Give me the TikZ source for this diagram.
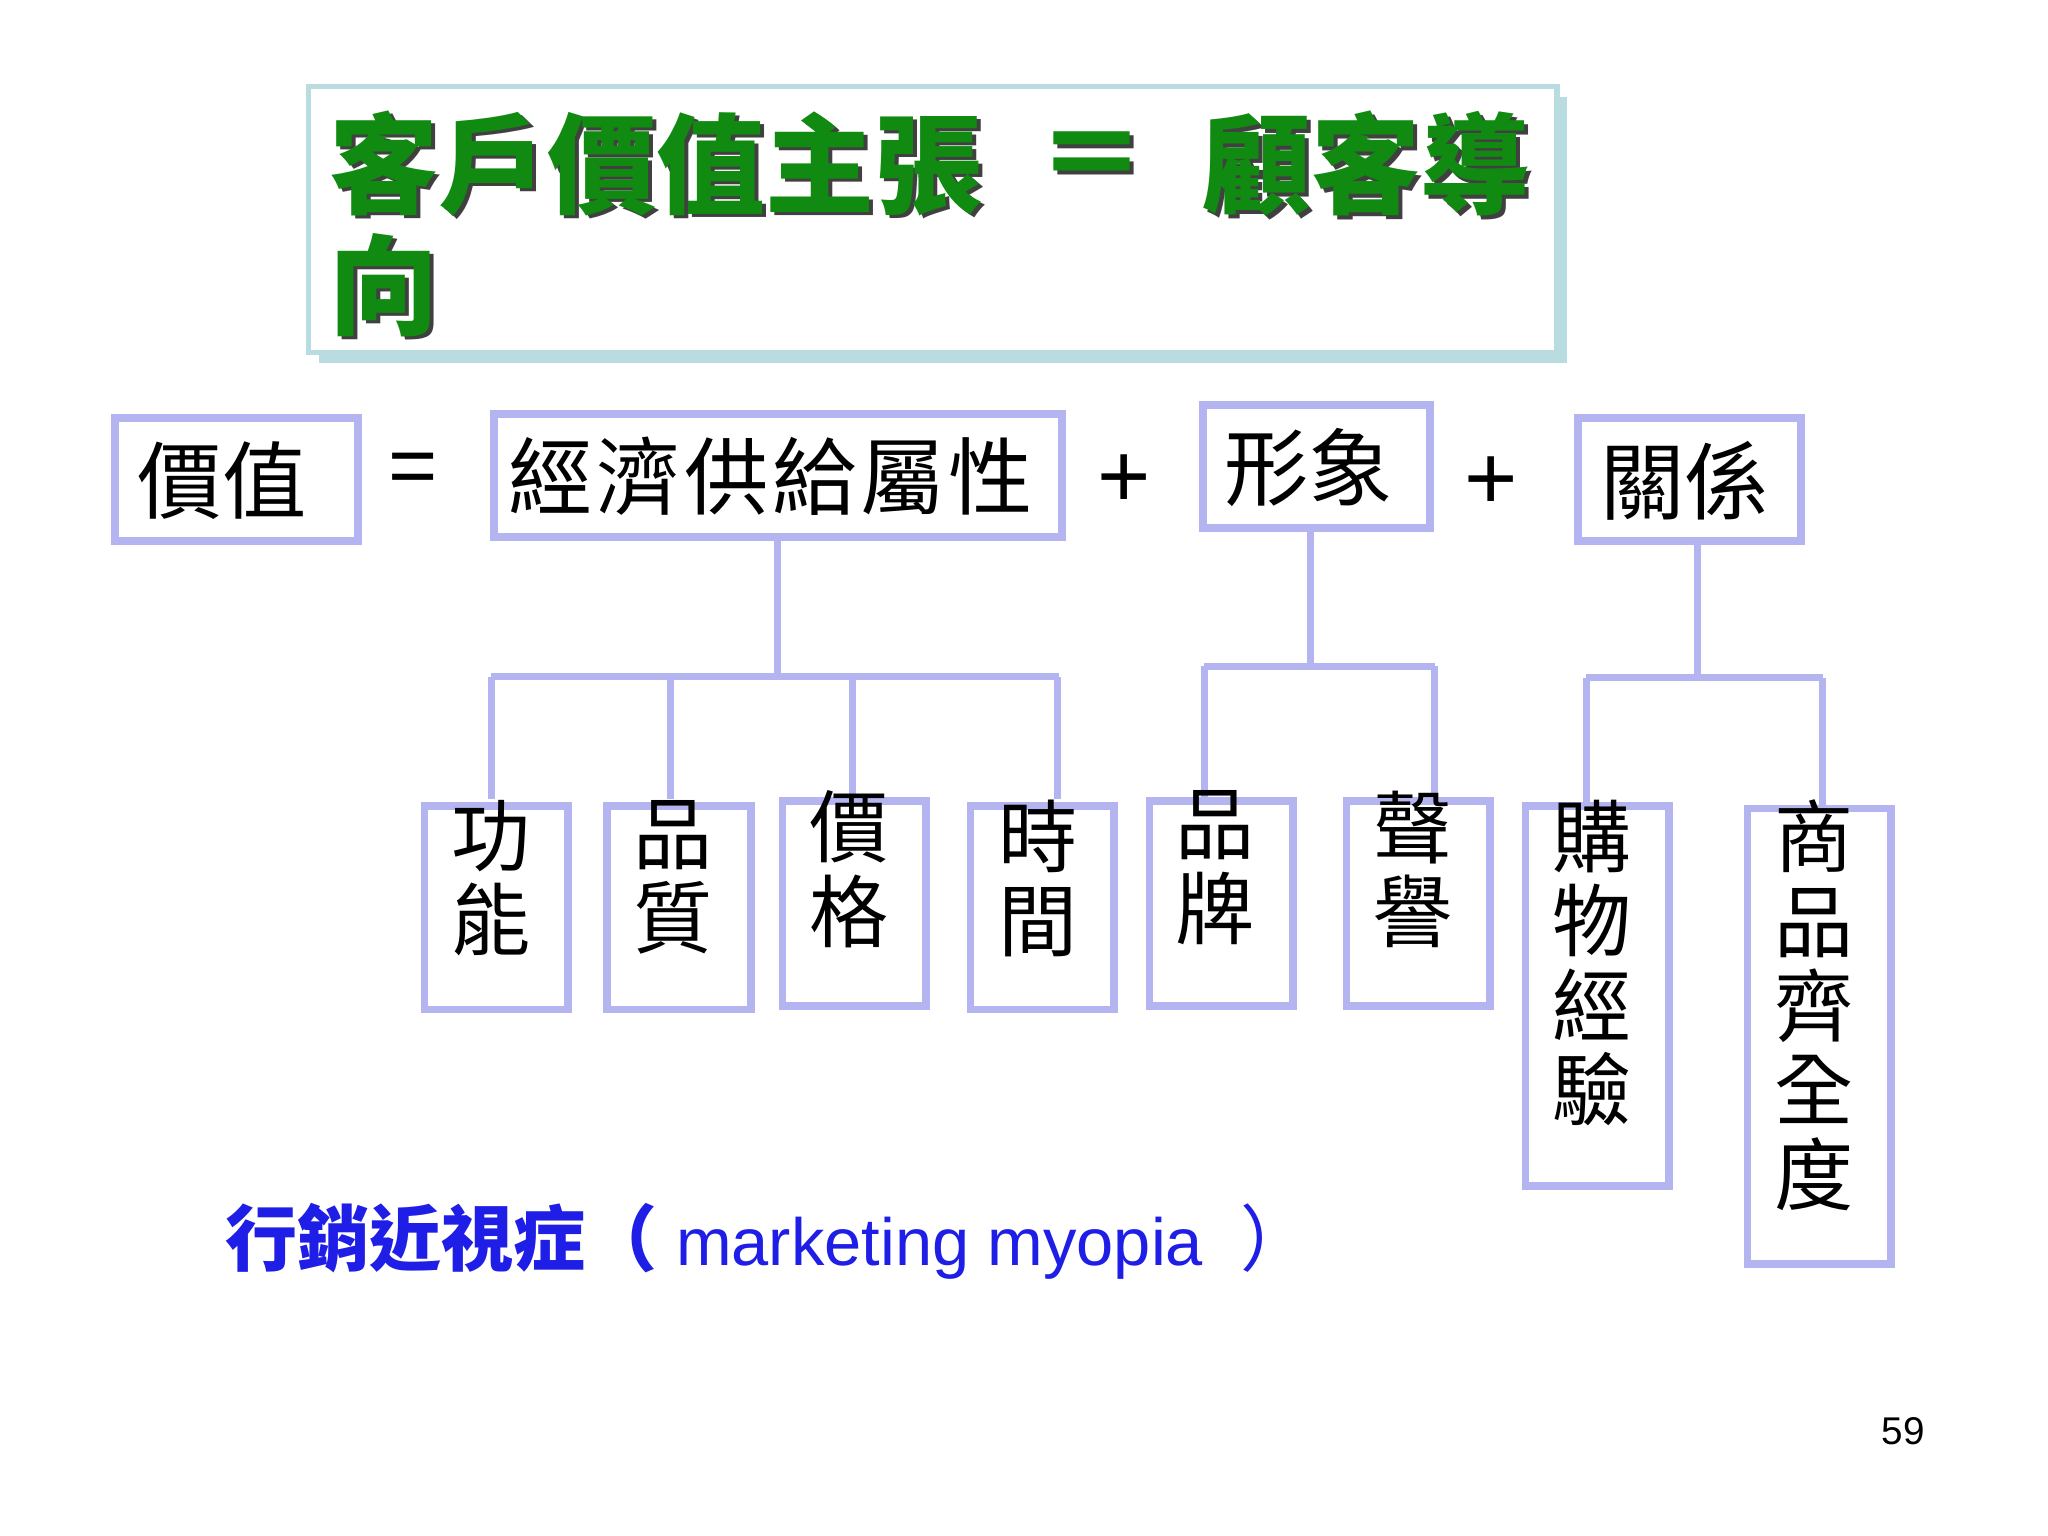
\documentclass[tikz,border=0pt]{standalone}
\usepackage{fontspec}
\setmainfont{Liberation Sans}
\newfontfamily\cjk{Noto Sans CJK TC}
\definecolor{lav}{HTML}{B4B4F0}
\definecolor{teal}{HTML}{B8DCE0}
\definecolor{tgreen}{HTML}{108A10}
\definecolor{mblue}{HTML}{1E1EE6}
\tikzset{
 bx/.style={draw=lav,line width=2.2pt},
 ln/.style={draw=lav,line width=2pt},
 big/.style={font=\cjk\fontsize{24}{26}\selectfont,inner sep=0pt},
 vt/.style={font=\cjk\fontsize{22.5}{24}\selectfont,align=center,anchor=north,inner sep=0pt},
 ttl/.style={font=\cjk\bfseries\fontsize{31}{33}\selectfont,inner sep=0pt},
}
\begin{document}
\begin{tikzpicture}[x=0.01306cm,y=-0.01306cm]
\useasboundingbox[fill=white] (0,0) rectangle (1568,1176);
% title
\fill[teal] (244,74) rectangle (1200,278);
\draw[fill=white,draw=teal,line width=1.5pt] (236,66) rectangle (1192,270);
\foreach \c/\dx in {black!75/3, tgreen/0}{
 \node[ttl,anchor=west,text=\c] (t1\dx) at (252+\dx,125+\dx) {客戶價值主張};
 \node[ttl,text=\c] (t2\dx) at (836+\dx,125+\dx) {＝};
 \node[ttl,anchor=west,text=\c] (t3\dx) at (920+\dx,125+\dx) {顧客導};
 \node[ttl,anchor=west,text=\c] (t4\dx) at (252+\dx,218+\dx) {向};
}
% top row
\draw[bx] (88,320) rectangle (274,414); \node[big] (v) at (170,368) {價值};
\node[big,font=\fontsize{24}{26}\selectfont] (eq) at (316,363) {=};
\draw[bx] (378,317) rectangle (813,411);
\node[big] (a) at (590,365) {經\kern1pt 濟\kern1pt 供\kern1pt 給\kern1pt 屬\kern1pt 性};
\node[big,font=\fontsize{26}{28}\selectfont] (p1) at (861,368) {+};
\draw[bx] (921,310) rectangle (1095,404); \node[big] (b) at (1002,358) {形象};
\node[big,font=\fontsize{26}{28}\selectfont] (p2) at (1142,370) {+};
\draw[bx] (1208,320) rectangle (1379,414); \node[big] (c) at (1290,368) {關係};
\coordinate (A) at (595,412); \coordinate (B) at (1003,405); \coordinate (C) at (1300,415);
% tree lines
\draw[ln] (A) -- (595,518) (376,518) -- (811,518);
\foreach \x in {376,513,653,810} \draw[ln] (\x,518) -- (\x,612);
\draw[ln] (B) -- (1003,510) (922,510) -- (1099,510);
\foreach \x in {922,1098} \draw[ln] (\x,510) -- (\x,612);
\draw[ln] (C) -- (1300,519) (1214,519) -- (1396,519);
\foreach \x in {1215,1395} \draw[ln] (\x,519) -- (\x,617);
% bottom boxes
\draw[bx] (325,617) rectangle (435,773); \node[vt] (n1) at (376,612) {功\\能};
\draw[bx] (465,617) rectangle (575,773); \node[vt] (n2) at (515,612) {品\\質};
\draw[bx] (599,613) rectangle (709,770); \node[vt] (n3) at (650,605) {價\\格};
\draw[bx] (743,617) rectangle (853,773); \node[vt] (n4) at (795,612) {時\\間};
\draw[bx] (880,613) rectangle (990,770); \node[vt] (n5) at (930,605) {品\\牌};
\draw[bx] (1031,613) rectangle (1141,770); \node[vt] (n6) at (1082,605) {聲\\譽};
\draw[bx] (1168,617) rectangle (1278,908); \node[vt] (n7) at (1219,612) {購\\物\\經\\驗};
\draw[bx] (1338,619) rectangle (1448,968); \node[vt] (n8) at (1389,612) {商\\品\\齊\\全\\度};
% bottom text
\node[anchor=west,text=mblue,inner sep=0pt] (mm) at (172,950)
 {{\cjk\bfseries\fontsize{20.5}{22}\selectfont 行銷近視症（}\fontsize{19}{21}\selectfont\ marketing myopia\ \ {\cjk\fontsize{20.5}{22}\selectfont ）}};
\node[font=\fontsize{11}{13}\selectfont,inner sep=0pt] (pg) at (1457,1096) {59};
\end{tikzpicture}
\end{document}
